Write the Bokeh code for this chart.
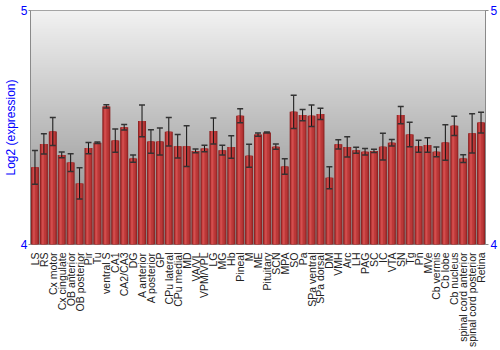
import numpy as np
from bokeh.plotting import figure
from bokeh.models import Range1d, FixedTicker, LinearAxis, Whisker, TeeHead, ColumnDataSource
from bokeh.embed import file_html
from bokeh.resources import INLINE

regions = ["LS", "RS", "Cx motor", "Cx cingulate", "OB anterior", "OB posterior", "Pir", "Tu",
           "ventral S", "CA1", "CA2/CA3", "DG", "A anterior", "A posterior", "GP", "CPu lateral",
           "CPu medial", "MD", "VA/VL", "VPM/VPL", "LG", "MG", "Hb", "Pineal", "M", "ME",
           "Pituitary", "SCN", "MPA", "SO", "Pa", "SPa ventral", "SPa dorsal", "DM", "VMH", "Arc",
           "LH", "PAG", "SC", "IC", "VTA", "SN", "Tg", "Pn", "MVe", "Cb vermis", "Cb lobe",
           "Cb nucleus", "spinal cord anterior", "spinal cord posterior", "Retina"]

expression = [4.330, 4.430, 4.483, 4.383, 4.350, 4.261, 4.412, 4.435,
              4.590, 4.444, 4.501, 4.367, 4.528, 4.440, 4.440, 4.482,
              4.420, 4.420, 4.400, 4.410, 4.485, 4.403, 4.417, 4.550, 4.379, 4.470,
              4.479, 4.418, 4.333, 4.567, 4.553, 4.550, 4.558, 4.285, 4.428, 4.417,
              4.403, 4.396, 4.400, 4.418, 4.435, 4.553, 4.470, 4.420, 4.425, 4.396, 4.436,
              4.507, 4.367, 4.475, 4.521]

error = [0.072, 0.043, 0.060, 0.012, 0.038, 0.067, 0.024, 0.003,
         0.007, 0.050, 0.012, 0.016, 0.068, 0.050, 0.058, 0.061,
         0.050, 0.087, 0.008, 0.014, 0.056, 0.021, 0.048, 0.030, 0.049, 0.007,
         0.002, 0.011, 0.033, 0.071, 0.024, 0.046, 0.024, 0.047, 0.020, 0.043,
         0.013, 0.014, 0.007, 0.057, 0.014, 0.037, 0.052, 0.026, 0.031, 0.021, 0.076,
         0.041, 0.017, 0.084, 0.044]

y_ticks = [4, 5]

n = len(regions)
xs = np.arange(n)
ymin, ymax = y_ticks[0], y_ticks[-1]

p = figure(width=500, height=350, output_backend="svg", toolbar_location=None,
           x_range=Range1d(-0.5, n - 0.5), y_range=Range1d(ymin, ymax),
           min_border_left=27, min_border_right=13, min_border_top=10, min_border_bottom=100)
p.grid.visible = False
p.outline_line_color = "#8a8a8a"
p.background_fill_color = "white"
p.border_fill_color = "white"

# background vertical gradient
rows = 240
shade = np.linspace(0x86, 0xF2, rows).astype(np.uint32)
img = (0xFF << 24) | (shade << 16) | (shade << 8) | shade
img = img.reshape(rows, 1).astype(np.uint32)
p.image_rgba(image=[img], x=-0.5, y=ymin, dw=n, dh=ymax - ymin)

src = ColumnDataSource(dict(
    x=xs, top=expression,
    xl=xs - 0.12,
    upper=np.array(expression) + np.array(error),
    lower=np.array(expression) - np.array(error)))

# cylinder-like shaded bars
p.vbar(x="x", top="top", bottom=ymin, width=0.9, source=src, fill_color="#8a2222", line_color=None)
p.vbar(x="x", top="top", bottom=ymin, width=0.72, source=src, fill_color="#a82e2e", line_color=None)
p.vbar(x="x", top="top", bottom=ymin, width=0.5, source=src, fill_color="#bb3838", line_color=None)
p.vbar(x="xl", top="top", bottom=ymin, width=0.3, source=src, fill_color="#cb4545", line_color=None)
p.vbar(x="xl", top="top", bottom=ymin, width=0.12, source=src, fill_color="#d45050", line_color=None)

wh = Whisker(base="x", upper="upper", lower="lower", source=src, level="overlay",
             line_color="#111111", line_width=1,
             upper_head=TeeHead(size=6, line_color="#333333", line_width=1.5),
             lower_head=TeeHead(size=6, line_color="#333333", line_width=1.5))
p.add_layout(wh)

# axes
yax = p.yaxis[0]
yax.ticker = FixedTicker(ticks=y_ticks)
yax.minor_tick_line_color = None
yax.major_tick_out = 2
yax.major_tick_in = 0
yax.major_tick_line_color = "#8a8a8a"
yax.axis_line_color = "#8a8a8a"
yax.major_label_text_color = "blue"
yax.major_label_text_font = "Liberation Sans"
yax.major_label_text_font_size = "12px"
yax.major_label_standoff = 1
yax.axis_label = "Log2 (expression)"
yax.axis_label_text_color = "blue"
yax.axis_label_text_font = "Liberation Sans"
yax.axis_label_text_font_size = "12px"
yax.axis_label_text_font_style = "normal"
yax.axis_label_standoff = 0

rax = LinearAxis(ticker=FixedTicker(ticks=y_ticks))
rax.minor_tick_line_color = None
rax.major_tick_out = 3
rax.major_tick_in = 0
rax.major_tick_line_color = "#8a8a8a"
rax.axis_line_color = "#8a8a8a"
rax.major_label_text_color = "blue"
rax.major_label_text_font = "Liberation Sans"
rax.major_label_text_font_size = "12px"
rax.major_label_standoff = 2
p.add_layout(rax, "right")

xax = p.xaxis[0]
xax.ticker = FixedTicker(ticks=list(range(n)))
xax.major_label_overrides = {i: r for i, r in enumerate(regions)}
xax.major_label_orientation = np.pi / 2
xax.major_label_text_font = "Liberation Sans"
xax.major_label_text_font_size = "10.5px"
xax.major_label_text_color = "#222222"
xax.major_label_standoff = 2
xax.major_tick_line_color = None
xax.minor_tick_line_color = None
xax.axis_line_color = None

open("out.html", "w").write(file_html(p, INLINE))
